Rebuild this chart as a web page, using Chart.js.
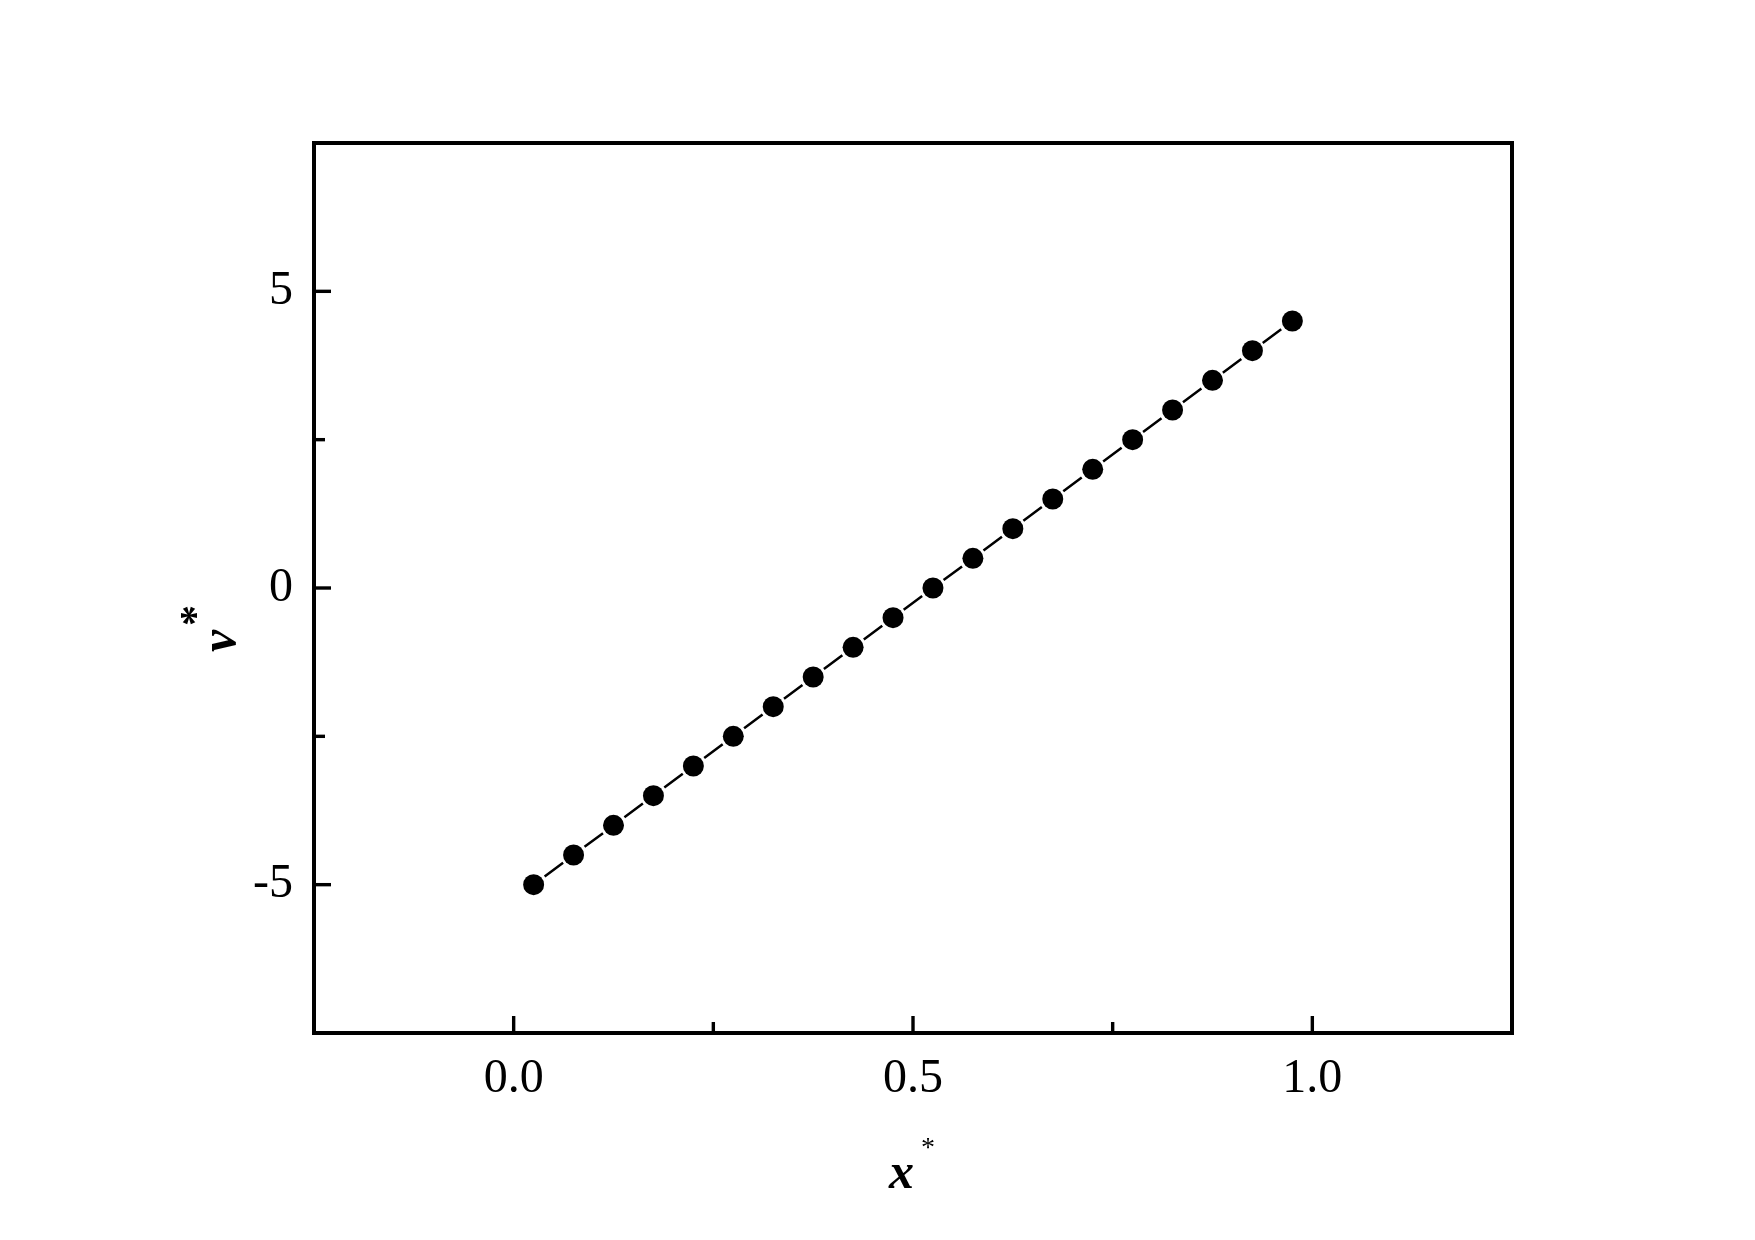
<!DOCTYPE html>
<html>
<head>
<meta charset="utf-8">
<script src="https://cdn.jsdelivr.net/npm/chart.js@4.4.0/dist/chart.umd.min.js"></script>
<style>
  html, body { margin: 0; padding: 0; background: #fff; }
  #wrap { width: 1755px; height: 1240px; }
</style>
</head>
<body>
<div id="wrap"><canvas id="chart" width="1755" height="1240"></canvas></div>
<script>
// data
const xValues = [0.025, 0.075, 0.125, 0.175, 0.225, 0.275, 0.325, 0.375, 0.425, 0.475,
                 0.525, 0.575, 0.625, 0.675, 0.725, 0.775, 0.825, 0.875, 0.925, 0.975];
const yValues = [-5, -4.5, -4, -3.5, -3, -2.5, -2, -1.5, -1, -0.5,
                 0, 0.5, 1, 1.5, 2, 2.5, 3, 3.5, 4, 4.5];
const xTicks = [0, 0.25, 0.5, 0.75, 1];
const xTickLabels = ['0.0', '', '0.5', '', '1.0'];
const yTicks = [-5, -2.5, 0, 2.5, 5];
const yTickLabels = ['-5', '', '0', '', '5'];

const SERIF = '"Liberation Serif", "Times New Roman", serif';

const points = xValues.map((x, i) => ({ x, y: yValues[i] }));

// frame, inward ticks and axis titles
const framePlugin = {
    id: 'frame',
    afterDraw(chart) {
        const { ctx, chartArea: a, scales } = chart;
        ctx.save();
        ctx.strokeStyle = '#000';
        ctx.lineWidth = 4;
        ctx.strokeRect(a.left, a.top, a.right - a.left, a.bottom - a.top);

        ctx.lineWidth = 3.4;
        ctx.lineCap = 'butt';
        xTicks.forEach((v, i) => {
            const px = scales.x.getPixelForValue(v);
            const len = xTickLabels[i] ? 17 : 11;
            ctx.beginPath();
            ctx.moveTo(px, a.bottom);
            ctx.lineTo(px, a.bottom - len);
            ctx.stroke();
        });
        yTicks.forEach((v, i) => {
            const py = scales.y.getPixelForValue(v);
            const len = yTickLabels[i] ? 17 : 11;
            ctx.beginPath();
            ctx.moveTo(a.left, py);
            ctx.lineTo(a.left + len, py);
            ctx.stroke();
        });

        // x* title
        ctx.fillStyle = '#000';
        ctx.textBaseline = 'alphabetic';
        ctx.textAlign = 'left';
        ctx.font = 'bold italic 50px ' + SERIF;
        ctx.fillText('x', 889, 1188);
        ctx.font = '28px ' + SERIF;
        ctx.fillText('*', 921, 1156);

        // v* title, rotated
        ctx.translate(235, 652);
        ctx.rotate(-Math.PI / 2);
        ctx.font = 'bold italic 50px ' + SERIF;
        ctx.fillText('v', 0, 0);
        ctx.font = 'bold 42px ' + SERIF;
        ctx.fillText('*', 26, -26);
        ctx.restore();
    }
};

new Chart(document.getElementById('chart'), {
    type: 'scatter',
    data: {
        datasets: [{
            data: points,
            showLine: true,
            borderColor: '#000',
            borderWidth: 2.5,
            borderDash: [23, 26.7],
            borderDashOffset: 36,
            pointRadius: 10.5,
            pointBackgroundColor: '#000',
            pointBorderWidth: 0
        }]
    },
    options: {
        responsive: false,
        animation: false,
        layout: { padding: { left: 164, right: 243, top: 143, bottom: 0 } },
        plugins: {
            legend: { display: false },
            tooltip: { enabled: false }
        },
        scales: {
            x: {
                type: 'linear',
                min: -0.25,
                max: 1.25,
                grid: { display: false },
                border: { display: false },
                afterBuildTicks: s => { s.ticks = xTicks.map(v => ({ value: v })); },
                afterFit: s => { s.height = 207; },
                ticks: {
                    color: '#000',
                    padding: 10,
                    font: { family: SERIF, size: 48 },
                    callback: (v, i) => xTickLabels[i]
                }
            },
            y: {
                type: 'linear',
                min: -7.5,
                max: 7.5,
                grid: { display: false },
                border: { display: false },
                afterBuildTicks: s => { s.ticks = yTicks.map(v => ({ value: v })); },
                afterFit: s => { s.width = 150; },
                ticks: {
                    color: '#000',
                    padding: 13,
                    font: { family: SERIF, size: 48 },
                    callback: (v, i) => yTickLabels[i]
                }
            }
        }
    },
    plugins: [framePlugin]
});
</script>
</body>
</html>
